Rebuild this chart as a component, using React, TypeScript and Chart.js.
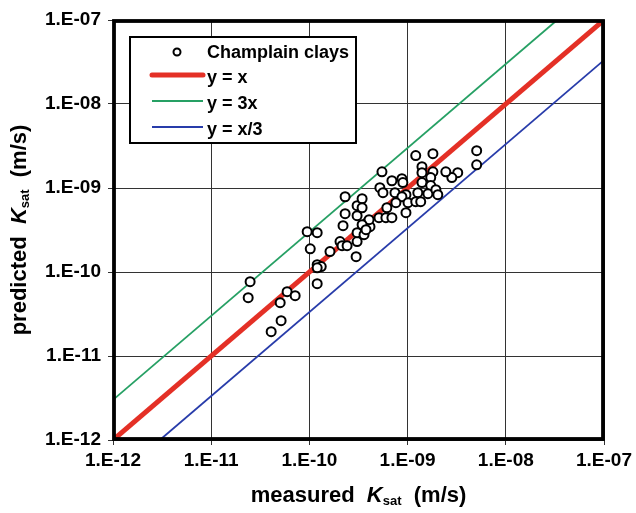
import React, { useEffect, useRef } from "react";
import { Chart, registerables } from "chart.js";

Chart.register(...registerables);

// measured Ksat (m/s)
const measuredK = [
  2.49e-11, 2.38e-11, 5.93e-11, 7.16e-11, 5.04e-11, 5.15e-11, 4.08e-11,
  1.20e-10, 1.32e-10, 1.20e-10, 1.20e-10, 9.49e-11, 1.20e-10, 1.02e-10,
  1.62e-10, 2.05e-10, 2.15e-10, 2.42e-10, 2.31e-10, 2.31e-10, 2.20e-10,
  2.99e-10, 3.06e-10, 3.06e-10, 3.06e-10, 3.06e-10, 3.44e-10, 3.44e-10,
  3.60e-10, 3.86e-10, 4.14e-10, 4.05e-10, 5.22e-10, 5.61e-10, 5.48e-10,
  6.92e-10, 8.75e-10, 8.95e-10, 1.21e-9, 1.81e-9, 1.40e-9, 1.40e-9,
  1.81e-9, 7.43e-10, 9.62e-10, 8.75e-10, 1.40e-9, 1.72e-9, 1.72e-9,
  1.27e-9, 1.61e-9, 1.94e-9, 7.60e-10, 1.01e-9, 1.21e-9, 6.15e-10,
  9.62e-10, 5.11e-10, 6.01e-10, 6.92e-10, 3.44e-10, 3.77e-10, 5.05e-9,
  5.05e-9, 3.24e-9, 2.82e-9, 2.45e-9, 2.03e-9, 1.36e-9,
];
// predicted Ksat (m/s)
const predictedK = [
  7.66e-11, 4.94e-11, 5.83e-11, 5.22e-11, 4.31e-11, 2.63e-11, 1.95e-11,
  1.22e-10, 1.16e-10, 1.12e-10, 7.26e-11, 3.02e-10, 2.94e-10, 1.89e-10,
  1.75e-10, 2.30e-10, 2.06e-10, 2.06e-10, 7.87e-10, 4.94e-10, 3.56e-10,
  1.52e-10, 2.30e-10, 2.94e-10, 4.68e-10, 6.15e-10, 7.45e-10, 5.82e-10,
  2.78e-10, 3.86e-10, 3.46e-10, 4.20e-10, 1.01e-9, 8.79e-10, 1.56e-9,
  1.22e-9, 1.29e-9, 1.16e-9, 2.43e-9, 2.56e-9, 1.79e-9, 1.52e-9,
  1.56e-9, 8.79e-10, 8.32e-10, 7.87e-10, 1.16e-9, 1.33e-9, 1.07e-9,
  8.79e-10, 8.55e-10, 9.55e-10, 6.68e-10, 6.68e-10, 6.87e-10, 5.82e-10,
  5.08e-10, 4.43e-10, 4.43e-10, 4.43e-10, 3.66e-10, 3.19e-10, 2.78e-9,
  1.89e-9, 1.52e-9, 1.33e-9, 1.56e-9, 8.32e-10, 6.87e-10,
];

// reference lines (end points)
const lineYeqX_x = [1e-12, 1e-7];
const lineYeqX_y = [1e-12, 1e-7];
const lineY3X_x = [1e-12, 3.333e-8];
const lineY3X_y = [3e-12, 1e-7];
const lineYX3_x = [3e-12, 1e-7];
const lineYX3_y = [1e-12, 3.333e-8];

const tickValues = [1e-12, 1e-11, 1e-10, 1e-9, 1e-8, 1e-7];
const tickLabels = ["1.E-12", "1.E-11", "1.E-10", "1.E-09", "1.E-08", "1.E-07"];

const seriesNames = ["Champlain clays", "y = x", "y = 3x", "y = x/3"];

const FONT = '"Liberation Sans", Arial, Helvetica, sans-serif';
const RED = "rgb(228,48,38)";
const GREEN = "rgb(38,160,100)";
const BLUE = "rgb(40,60,170)";

const zip = (xs: number[], ys: number[]) => xs.map((x, i) => ({ x, y: ys[i] }));

function labelFor(v: number) {
  const e = Math.round(Math.log10(v));
  const i = tickValues.findIndex((t) => Math.round(Math.log10(t)) === e);
  return i >= 0 ? tickLabels[i] : "";
}

type Part = { text: string; font: string; dy?: number };

function drawRich(ctx: CanvasRenderingContext2D, parts: Part[], cx: number, y: number) {
  let total = 0;
  const widths = parts.map((p) => {
    ctx.font = p.font;
    const w = ctx.measureText(p.text).width;
    total += w;
    return w;
  });
  let x = cx - total / 2;
  ctx.textAlign = "left";
  ctx.textBaseline = "alphabetic";
  parts.forEach((p, i) => {
    ctx.font = p.font;
    ctx.fillText(p.text, x, y + (p.dy || 0));
    x += widths[i];
  });
}

const decorPlugin = {
  id: "decor",
  afterDraw(chart: any) {
    const ctx: CanvasRenderingContext2D = chart.ctx;
    const { left, top, right, bottom } = chart.chartArea;
    ctx.save();
    // frame
    ctx.strokeStyle = "#000";
    ctx.lineWidth = 3.8;
    ctx.strokeRect(left + 1, top + 1, right - left - 2, bottom - top - 2);

    // legend
    const lx = 130, ly = 37, lw = 226, lh = 106;
    ctx.fillStyle = "#fff";
    ctx.fillRect(lx, ly, lw, lh);
    ctx.lineWidth = 2;
    ctx.strokeStyle = "#000";
    ctx.strokeRect(lx, ly, lw, lh);

    ctx.fillStyle = "#000";
    ctx.font = `bold 18px ${FONT}`;
    ctx.textAlign = "left";
    ctx.textBaseline = "middle";
    const rows = [52, 77, 103, 129];
    // marker
    ctx.beginPath();
    ctx.arc(177, rows[0], 3.5, 0, Math.PI * 2);
    ctx.fillStyle = "#fff";
    ctx.fill();
    ctx.lineWidth = 2;
    ctx.strokeStyle = "#000";
    ctx.stroke();
    const lineStyles = [
      { c: RED, w: 5 },
      { c: GREEN, w: 2 },
      { c: BLUE, w: 2 },
    ];
    lineStyles.forEach((s, i) => {
      ctx.beginPath();
      ctx.strokeStyle = s.c;
      ctx.lineWidth = s.w;
      ctx.lineCap = i === 0 ? "round" : "butt";
      ctx.moveTo(152, rows[i + 1] - 2);
      ctx.lineTo(203, rows[i + 1] - 2);
      ctx.stroke();
    });
    ctx.fillStyle = "#000";
    seriesNames.forEach((n, i) => {
      ctx.fillText(n, 207, rows[i] + 1);
    });

    // axis titles
    const big = `bold 22px ${FONT}`;
    const ital = `italic bold 22px ${FONT}`;
    const sub = `bold 13px ${FONT}`;
    const xParts: Part[] = [
      { text: "measured  ", font: big },
      { text: "K", font: ital },
      { text: "sat", font: sub, dy: 3 },
      { text: "  (m/s)", font: big },
    ];
    ctx.fillStyle = "#000";
    drawRich(ctx, xParts, (left + right) / 2, 502);

    const yParts: Part[] = [
      { text: "predicted  ", font: big },
      { text: "K", font: ital },
      { text: "sat", font: sub, dy: 3 },
      { text: "  (m/s)", font: big },
    ];
    ctx.translate(26, (top + bottom) / 2);
    ctx.rotate(-Math.PI / 2);
    drawRich(ctx, yParts, 0, 0);
    ctx.restore();
  },
};

export default function App() {
  const ref = useRef<HTMLCanvasElement | null>(null);

  useEffect(() => {
    if (!ref.current) return;
    const axisCommon = (isX: boolean) => ({
      type: "logarithmic" as const,
      min: 1e-12,
      max: 1e-7,
      afterBuildTicks: (s: any) => {
        s.ticks = tickValues.map((v) => ({ value: v }));
      },
      afterFit: (s: any) => {
        if (isX) s.height = 73;
        else s.width = 113;
      },
      ticks: {
        callback: (v: any) => labelFor(Number(v)),
        font: { family: FONT, size: 19, weight: "bold" as const },
        color: "#000",
        maxRotation: 0,
        autoSkip: false,
        padding: isX ? 4 : 7,
      },
      grid: {
        color: "#333",
        lineWidth: 1,
        tickLength: 5,
        drawTicks: true,
      },
      border: { display: false },
    });

    const chart = new Chart(ref.current, {
      type: "scatter",
      data: {
        datasets: [
          {
            label: seriesNames[0],
            data: zip(measuredK, predictedK),
            pointRadius: 4.5,
            pointBorderWidth: 2,
            pointBorderColor: "#000",
            pointBackgroundColor: "#fff",
            showLine: false,
            order: 0,
          },
          {
            label: seriesNames[1],
            data: zip(lineYeqX_x, lineYeqX_y),
            showLine: true,
            borderColor: RED,
            borderWidth: 5,
            pointRadius: 0,
            order: 1,
          },
          {
            label: seriesNames[2],
            data: zip(lineY3X_x, lineY3X_y),
            showLine: true,
            borderColor: GREEN,
            borderWidth: 1.8,
            pointRadius: 0,
            order: 2,
          },
          {
            label: seriesNames[3],
            data: zip(lineYX3_x, lineYX3_y),
            showLine: true,
            borderColor: BLUE,
            borderWidth: 1.8,
            pointRadius: 0,
            order: 3,
          },
        ],
      },
      options: {
        responsive: false,
        animation: false,
        devicePixelRatio: 1,
        layout: { padding: { top: 20, right: 30, left: 0, bottom: 0 } },
        plugins: {
          legend: { display: false },
          tooltip: { enabled: false },
          title: { display: false },
        },
        scales: {
          x: axisCommon(true),
          y: axisCommon(false),
        },
      },
      plugins: [decorPlugin],
    });
    return () => chart.destroy();
  }, []);

  return (
    <div style={{ position: "fixed", left: 0, top: 0, width: 636, height: 513, background: "#fff" }}>
      <canvas ref={ref} width={636} height={513} style={{ display: "block" }} />
    </div>
  );
}
